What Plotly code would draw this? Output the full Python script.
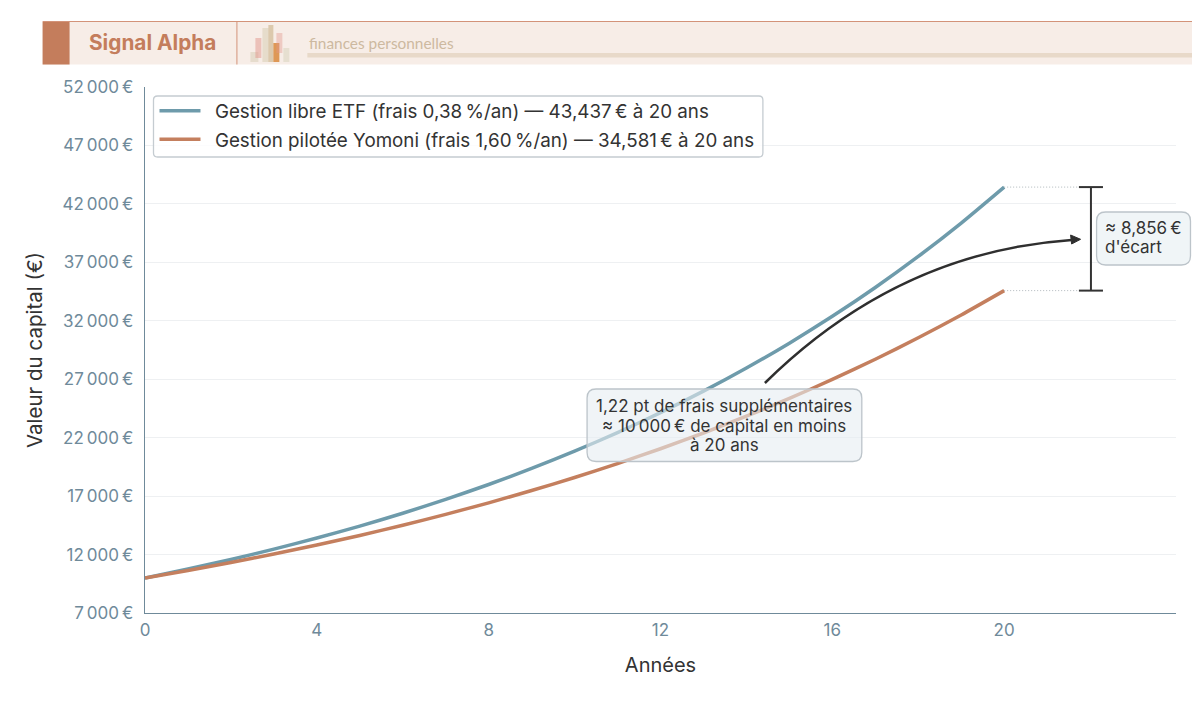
import plotly.graph_objects as go

W, H = 1200, 721
NNBSP = "\u202f"

# Donnees
annees = list(range(21))
etf = [10000, 10762, 11582, 12465, 13415, 14437, 15537, 16721, 17995, 19366, 20842,
       22430, 24139, 25978, 27958, 30088, 32381, 34848, 37503, 40361, 43437]
yomoni = [10000, 10640, 11321, 12045, 12816, 13636, 14509, 15438, 16426, 17477, 18596,
          19786, 21052, 22399, 23833, 25358, 26981, 28708, 30545, 32500, 34581]
y_ticks = [7000, 12000, 17000, 22000, 27000, 32000, 37000, 42000, 47000, 52000]
y_labels = [f"{v // 1000}{NNBSP}000{NNBSP}€" for v in y_ticks]
x_ticks = [0, 4, 8, 12, 16, 20]

BLEU = "#6e9bab"
ORANGE = "#c47f5e"
TXT = "#333333"
AXE = "#6f8a9a"

# zone de trace en pixels de la page (le body garde 8 px de marge)
L, R, T, B = 144.5, 1176.5, 87, 613
OFFSET = 8


def px(x):
    return (x - L) / (R - L)


def py(y):
    return (B - y) / (B - T)


def rect(x0, y0, x1, y1, fill, layer="above"):
    return dict(type="rect", xref="paper", yref="paper", x0=px(x0), x1=px(x1), y0=py(y0), y1=py(y1),
                fillcolor=fill, line_width=0, layer=layer)


def arrondi(x0, y0, x1, y1, r, fill, line):
    p = (f"M {px(x0 + r)} {py(y0)} L {px(x1 - r)} {py(y0)} Q {px(x1)} {py(y0)} {px(x1)} {py(y0 + r)} "
         f"L {px(x1)} {py(y1 - r)} Q {px(x1)} {py(y1)} {px(x1 - r)} {py(y1)} "
         f"L {px(x0 + r)} {py(y1)} Q {px(x0)} {py(y1)} {px(x0)} {py(y1 - r)} "
         f"L {px(x0)} {py(y0 + r)} Q {px(x0)} {py(y0)} {px(x0 + r)} {py(y0)} Z")
    return dict(type="path", xref="paper", yref="paper", path=p, fillcolor=fill,
                line=dict(color=line, width=1.3), layer="above")


def texte(x, y, txt, size, color=TXT, anchor="center", family="Inter"):
    return dict(xref="paper", yref="paper", x=px(x), y=py(y), xanchor=anchor, yanchor="middle",
                showarrow=False, text=txt, font=dict(family=family, size=size, color=color))


fig = go.Figure()
fig.add_trace(go.Scatter(x=annees, y=etf, mode="lines", legendgroup="a",
                         line=dict(color=BLEU, width=3.5, shape="spline", smoothing=0.6),
                         name=f"\u2002Gestion libre ETF (frais 0,38{NNBSP}%/an) — 43,437{NNBSP}€ à 20 ans"))
fig.add_trace(go.Scatter(x=annees, y=yomoni, mode="lines", legendgroup="b",
                         line=dict(color=ORANGE, width=3.5, shape="spline", smoothing=0.6),
                         name=f"\u2002Gestion pilotée Yomoni (frais 1,60{NNBSP}%/an) — 34,581{NNBSP}€ à 20 ans"))

shapes = [
    # bandeau
    rect(42, 22, 1200, 64.5, "#f7ede7"),
    rect(42, 22, 69, 64.5, "#c47d5c"),
    rect(42, 21, 1200, 22, "#d39379"),
    rect(236, 22, 237, 64.5, "#d39379"),
    rect(307, 53, 1200, 57.5, "#e8d9c9"),
    # logo
    rect(250, 52, 258, 62, "#e6dccd"),
    rect(255, 38, 261, 58, "rgba(225,150,140,0.5)"),
    rect(262, 28, 272, 62, "#e6dccb"),
    rect(268, 25, 273, 62, "#dcc9ad"),
    rect(273, 43, 279, 62, "rgba(215,130,50,0.8)"),
    rect(276, 33, 282, 53, "rgba(225,150,140,0.4)"),
    rect(283, 48, 289, 62, "#e6dfd0"),
    # legende
    arrondi(153, 96, 763, 157, 4, "rgba(255,255,255,0.8)", "#c5ccd1"),
    # ecart a 20 ans
    dict(type="line", x0=20, x1=22, y0=etf[-1], y1=etf[-1], layer="above", line=dict(color="#b0b7bc", width=1, dash="1px,2px")),
    dict(type="line", x0=20, x1=22, y0=yomoni[-1], y1=yomoni[-1], layer="above", line=dict(color="#b0b7bc", width=1, dash="1px,2px")),
    dict(type="line", x0=22.02, x1=22.02, y0=yomoni[-1], y1=etf[-1], layer="above", line=dict(color="#333333", width=2)),
    dict(type="line", x0=21.74, x1=22.3, y0=etf[-1], y1=etf[-1], layer="above", line=dict(color="#333333", width=2)),
    dict(type="line", x0=21.74, x1=22.3, y0=yomoni[-1], y1=yomoni[-1], layer="above", line=dict(color="#333333", width=2)),
    # fleche courbe
    dict(type="path", xref="paper", yref="paper", layer="above", line=dict(color="#2f2f2f", width=2.5),
         path=f"M {px(765)} {py(383)} Q {px(898)} {py(252)} {px(1072)} {py(240)}"),
    dict(type="path", xref="paper", yref="paper", layer="above", fillcolor="#2f2f2f", line=dict(color="#2f2f2f", width=1),
         path=f"M {px(1081)} {py(239.3)} L {px(1071)} {py(235)} L {px(1072)} {py(244)} Z"),
    # encadres
    arrondi(587, 389, 862, 461.5, 9, "rgba(230,237,242,0.6)", "#bcc4ca"),
    arrondi(1097, 212, 1191, 265, 9, "rgba(239,244,247,0.95)", "#bcc4ca"),
]

annotations = [
    texte(86, 43, "<b>Signal Alpha</b>", 20.8, "#c47d5c", "left"),
    texte(307, 43, "finances personnelles", 15.4, "#cdb9a0", "left", "Lato"),
    texte(724.5, 406, "1,22 pt de frais supplémentaires", 17),
    texte(724.5, 425.5, f"≈ 10{NNBSP}000{NNBSP}€ de capital en moins", 17),
    texte(724.5, 445, "à 20 ans", 17),
    texte(1103, 228, f"≈ 8,856{NNBSP}€", 17, anchor="left"),
    texte(1103, 247, "d'écart", 17, anchor="left"),
]

fig.update_layout(
    width=W, height=H, autosize=False,
    paper_bgcolor="white", plot_bgcolor="white",
    margin=dict(l=L - OFFSET, r=W - (R - OFFSET), t=T - OFFSET, b=H - (B - OFFSET), pad=0),
    font=dict(family="Inter", color=TXT),
    shapes=shapes, annotations=annotations,
    legend=dict(x=px(154), y=py(92), xanchor="left", yanchor="top", bgcolor="rgba(0,0,0,0)",
                borderwidth=0, font=dict(family="Inter", size=18.8, color=TXT), tracegroupgap=1,
                itemwidth=41),
    xaxis=dict(range=[0, 24], tickvals=x_ticks, showgrid=False, zeroline=False, showline=True,
               linecolor=AXE, linewidth=1.3, tickfont=dict(size=17, color=AXE), ticklabelstandoff=1,
               title=dict(text="Années", font=dict(size=20, color=TXT), standoff=19)),
    yaxis=dict(range=[7000, 52000], tickvals=y_ticks, ticktext=y_labels, showgrid=True,
               gridcolor="#eef0f2", gridwidth=1, zeroline=False, showline=True,
               linecolor=AXE, linewidth=1.3, tickfont=dict(size=17, color=AXE), ticklabelstandoff=7,
               title=dict(text="Valeur du capital (€)", font=dict(size=20.5, color=TXT), standoff=14)),
)

fig.write_html("out.html")
